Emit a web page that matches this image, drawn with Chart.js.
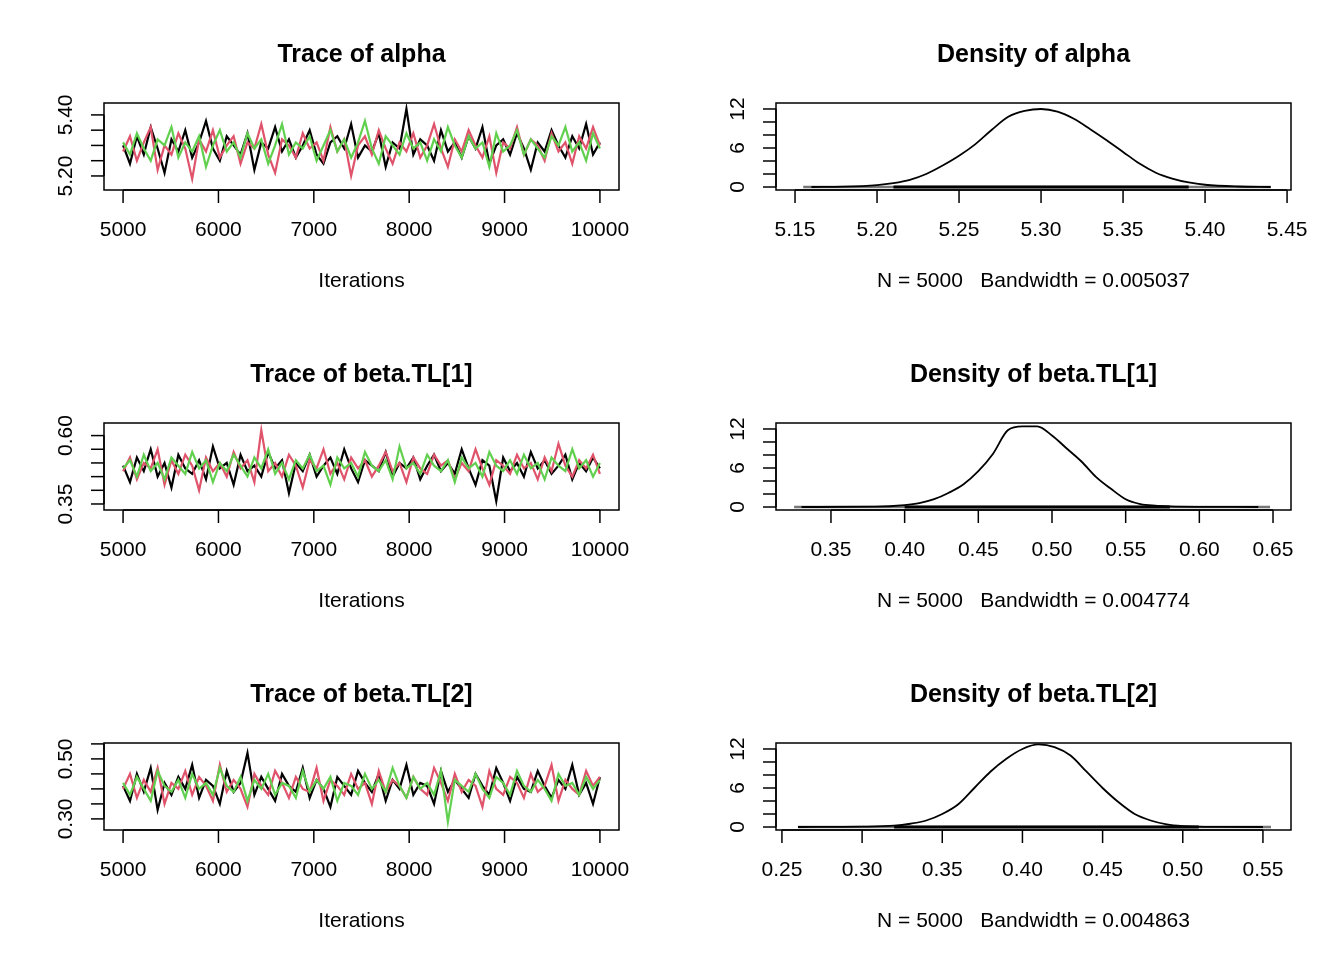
<!DOCTYPE html>
<html><head><meta charset="utf-8">
<script src="https://cdn.jsdelivr.net/npm/chart.js@4.4.1/dist/chart.umd.min.js"></script>
<style>body{margin:0;background:#fff;width:1344px;height:960px;position:relative;overflow:hidden}canvas{position:absolute;left:0;top:0}</style>
</head><body>
<script>
// ---- data ----
const alphaBlack=[5.30,5.24,5.33,5.27,5.36,5.29,5.21,5.32,5.28,5.35,5.26,5.31,5.38,5.29,5.25,5.33,5.30,5.27,5.34,5.22,5.31,5.29,5.36,5.28,5.32,5.26,5.30,5.35,5.27,5.24,5.31,5.33,5.29,5.37,5.26,5.30,5.28,5.34,5.23,5.31,5.29,5.42,5.27,5.32,5.30,5.25,5.35,5.28,5.31,5.26,5.33,5.29,5.36,5.24,5.30,5.32,5.27,5.34,5.29,5.22,5.31,5.28,5.35,5.30,5.26,5.33,5.29,5.37,5.27,5.31];
const alphaRed=[5.28,5.33,5.25,5.31,5.36,5.22,5.30,5.27,5.34,5.29,5.19,5.32,5.28,5.35,5.26,5.30,5.33,5.24,5.31,5.29,5.37,5.27,5.21,5.32,5.30,5.26,5.34,5.29,5.31,5.25,5.36,5.28,5.32,5.20,5.30,5.33,5.27,5.35,5.29,5.24,5.31,5.28,5.34,5.26,5.30,5.37,5.29,5.23,5.32,5.28,5.35,5.30,5.26,5.33,5.21,5.31,5.29,5.36,5.27,5.32,5.30,5.25,5.34,5.28,5.31,5.24,5.33,5.29,5.36,5.30];
const alphaGreen=[5.31,5.27,5.34,5.29,5.25,5.32,5.30,5.36,5.26,5.31,5.28,5.33,5.23,5.30,5.35,5.28,5.31,5.26,5.34,5.29,5.32,5.24,5.30,5.37,5.27,5.31,5.29,5.33,5.25,5.30,5.35,5.28,5.32,5.26,5.31,5.38,5.29,5.24,5.33,5.30,5.27,5.34,5.29,5.31,5.25,5.32,5.28,5.36,5.30,5.26,5.33,5.29,5.31,5.23,5.34,5.28,5.30,5.35,5.27,5.32,5.29,5.26,5.33,5.30,5.36,5.28,5.31,5.25,5.34,5.29];
const b1Black=[0.49,0.43,0.52,0.47,0.55,0.45,0.50,0.41,0.53,0.48,0.46,0.51,0.44,0.56,0.48,0.50,0.42,0.53,0.47,0.49,0.45,0.54,0.48,0.51,0.39,0.50,0.47,0.53,0.45,0.49,0.52,0.46,0.55,0.48,0.43,0.51,0.49,0.47,0.54,0.45,0.50,0.48,0.52,0.44,0.49,0.53,0.47,0.50,0.46,0.55,0.48,0.42,0.51,0.49,0.36,0.52,0.47,0.50,0.45,0.54,0.48,0.51,0.46,0.49,0.53,0.44,0.50,0.47,0.52,0.48];
const b1Red=[0.47,0.52,0.44,0.50,0.48,0.55,0.42,0.51,0.46,0.53,0.49,0.40,0.52,0.47,0.50,0.45,0.54,0.48,0.51,0.43,0.62,0.47,0.50,0.45,0.53,0.49,0.41,0.51,0.48,0.55,0.46,0.50,0.44,0.52,0.48,0.51,0.45,0.49,0.54,0.47,0.50,0.43,0.52,0.48,0.46,0.53,0.49,0.51,0.44,0.50,0.47,0.55,0.48,0.42,0.51,0.49,0.46,0.53,0.48,0.50,0.44,0.52,0.47,0.57,0.49,0.45,0.51,0.48,0.53,0.46];
const b1Green=[0.48,0.51,0.45,0.53,0.47,0.50,0.44,0.52,0.49,0.46,0.54,0.48,0.51,0.43,0.50,0.47,0.53,0.49,0.45,0.52,0.48,0.55,0.46,0.50,0.44,0.51,0.48,0.53,0.47,0.49,0.42,0.52,0.48,0.50,0.45,0.54,0.49,0.47,0.51,0.44,0.56,0.48,0.50,0.46,0.53,0.49,0.47,0.51,0.43,0.52,0.48,0.50,0.45,0.54,0.49,0.47,0.51,0.46,0.53,0.48,0.50,0.44,0.52,0.49,0.47,0.55,0.48,0.51,0.45,0.50];
const b2Black=[0.41,0.36,0.45,0.39,0.47,0.33,0.42,0.38,0.44,0.40,0.48,0.37,0.43,0.41,0.35,0.46,0.39,0.42,0.52,0.38,0.44,0.40,0.36,0.45,0.41,0.39,0.47,0.37,0.43,0.40,0.34,0.44,0.41,0.38,0.46,0.42,0.39,0.45,0.36,0.43,0.40,0.48,0.38,0.42,0.41,0.35,0.46,0.39,0.43,0.40,0.37,0.45,0.41,0.38,0.47,0.42,0.36,0.44,0.40,0.39,0.46,0.41,0.37,0.43,0.40,0.48,0.38,0.42,0.35,0.44];
const b2Red=[0.40,0.45,0.37,0.43,0.39,0.47,0.35,0.42,0.40,0.46,0.38,0.44,0.41,0.36,0.48,0.39,0.43,0.40,0.34,0.45,0.41,0.38,0.46,0.42,0.37,0.44,0.40,0.39,0.47,0.36,0.43,0.41,0.38,0.45,0.40,0.42,0.35,0.46,0.39,0.43,0.41,0.37,0.44,0.40,0.38,0.47,0.42,0.36,0.45,0.39,0.43,0.41,0.34,0.46,0.40,0.38,0.44,0.42,0.37,0.45,0.39,0.41,0.48,0.36,0.43,0.40,0.38,0.46,0.41,0.44];
const b2Green=[0.42,0.38,0.44,0.40,0.36,0.46,0.41,0.39,0.43,0.37,0.45,0.40,0.42,0.38,0.47,0.41,0.39,0.44,0.36,0.43,0.40,0.45,0.38,0.42,0.41,0.37,0.46,0.39,0.43,0.40,0.44,0.36,0.42,0.41,0.38,0.45,0.40,0.43,0.39,0.47,0.41,0.37,0.44,0.40,0.42,0.38,0.46,0.29,0.43,0.41,0.39,0.45,0.40,0.37,0.44,0.42,0.38,0.46,0.41,0.39,0.43,0.40,0.36,0.45,0.41,0.42,0.38,0.44,0.40,0.43];
const traceTicksX=[5000,6000,7000,8000,9000,10000];
const densAX=[5.16,5.18,5.20,5.21,5.22,5.23,5.24,5.25,5.26,5.27,5.28,5.29,5.30,5.31,5.32,5.33,5.34,5.35,5.36,5.37,5.38,5.39,5.40,5.42,5.44];
const densAY=[0,0.05,0.3,0.6,1.1,2.0,3.3,4.8,6.6,8.8,10.8,11.7,12.0,11.6,10.5,8.9,7.2,5.4,3.6,2.2,1.3,0.7,0.35,0.08,0];
const densB1X=[0.33,0.38,0.40,0.41,0.42,0.43,0.44,0.45,0.46,0.47,0.48,0.49,0.50,0.51,0.52,0.53,0.54,0.55,0.56,0.57,0.58,0.60,0.64];
const densB1Y=[0,0.05,0.3,0.6,1.2,2.2,3.5,5.5,8.2,11.8,12.4,12.4,11.0,9.0,7.0,4.6,2.8,1.2,0.45,0.2,0.1,0.03,0];
const densB2X=[0.26,0.30,0.32,0.33,0.34,0.35,0.36,0.37,0.38,0.39,0.40,0.41,0.42,0.43,0.44,0.45,0.46,0.47,0.48,0.49,0.50,0.52,0.55];
const densB2Y=[0,0.05,0.2,0.5,1.0,2.0,3.5,6.0,8.5,10.5,12.0,12.7,12.3,11.0,8.5,6.0,3.8,2.0,1.0,0.4,0.15,0.02,0];
const rugA=[5.155,5.44], coreA=[5.21,5.39];
const rugB1=[0.325,0.648], coreB1=[0.40,0.58];
const rugB2=[0.26,0.555], coreB2=[0.32,0.51];

const FONT='"Liberation Sans", Arial, sans-serif';
function trace(arr){return arr.map((v,i)=>({x:5000+i*5000/(arr.length-1),y:v}));}
function pts(xs,ys){return xs.map((x,i)=>({x,y:ys[i]}));}
function seg(a){return [{x:a[0],y:0},{x:a[1],y:0}];}

const panels=[
 {box:[104,103,619,190],title:'Trace of alpha',sub:'Iterations',x:[4800,10200],y:[5.154,5.439],xt:traceTicksX,yt:[5.20,5.25,5.30,5.35,5.40],ylab:[5.20,5.40],dec:2,xdec:0,
  ds:[trace(alphaBlack),trace(alphaRed),trace(alphaGreen)],trace:true},
 {box:[776,103,1291,190],title:'Density of alpha',sub:'N = 5000   Bandwidth = 0.005037',x:[5.1384,5.4524],y:[-0.46,12.92],xt:[5.15,5.20,5.25,5.30,5.35,5.40,5.45],yt:[0,2,4,6,8,10,12],ylab:[0,6,12],dec:0,xdec:2,
  curve:pts(densAX,densAY),rug:rugA,core:coreA},
 {box:[104,423,619,510],title:'Trace of beta.TL[1]',sub:'Iterations',x:[4800,10200],y:[0.328,0.646],xt:traceTicksX,yt:[0.35,0.40,0.45,0.50,0.55,0.60],ylab:[0.35,0.60],dec:2,xdec:0,
  ds:[trace(b1Black),trace(b1Red),trace(b1Green)],trace:true},
 {box:[776,423,1291,510],title:'Density of beta.TL[1]',sub:'N = 5000   Bandwidth = 0.004774',x:[0.3127,0.6622],y:[-0.46,12.92],xt:[0.35,0.40,0.45,0.50,0.55,0.60,0.65],yt:[0,2,4,6,8,10,12],ylab:[0,6,12],dec:0,xdec:2,
  curve:pts(densB1X,densB1Y),rug:rugB1,core:coreB1},
 {box:[104,743,619,830],title:'Trace of beta.TL[2]',sub:'Iterations',x:[4800,10200],y:[0.263,0.553],xt:traceTicksX,yt:[0.30,0.35,0.40,0.45,0.50,0.55],ylab:[0.30,0.50],dec:2,xdec:0,
  ds:[trace(b2Black),trace(b2Red),trace(b2Green)],trace:true},
 {box:[776,743,1291,830],title:'Density of beta.TL[2]',sub:'N = 5000   Bandwidth = 0.004863',x:[0.2463,0.5675],y:[-0.46,12.92],xt:[0.25,0.30,0.35,0.40,0.45,0.50,0.55],yt:[0,2,4,6,8,10,12],ylab:[0,6,12],dec:0,xdec:2,
  curve:pts(densB2X,densB2Y),rug:rugB2,core:coreB2}
];
const cols=['#000000','#DF536B','#61D04F'];

panels.forEach(p=>{
  const c=document.createElement('canvas');c.width=1344;c.height=960;c.style.width='1344px';c.style.height='960px';
  document.body.appendChild(c);
  let datasets;
  if(p.trace){datasets=p.ds.map((d,i)=>({data:d,borderColor:cols[i],borderWidth:2.2,pointRadius:0,tension:0,order:3-i}));}
  else{datasets=[
    {data:seg(p.rug),borderColor:'#777',borderWidth:2.5,pointRadius:0,order:3},
    {data:seg(p.core),borderColor:'#000',borderWidth:3,pointRadius:0,order:2},
    {data:p.curve,borderColor:'#000',borderWidth:1.8,pointRadius:0,tension:0.4,cubicInterpolationMode:'monotone',order:1}];}
  const [l,t,r,b]=p.box;
  new Chart(c,{type:'line',data:{datasets},
   options:{responsive:false,animation:false,devicePixelRatio:1,
    layout:{padding:{left:l,top:t,right:1344-r,bottom:960-b}},
    plugins:{legend:{display:false},tooltip:{enabled:false}},
    scales:{x:{type:'linear',display:false,min:p.x[0],max:p.x[1]},y:{type:'linear',display:false,min:p.y[0],max:p.y[1]}}},
   plugins:[{id:'rstyle',afterDraw(ch){
     const ctx=ch.ctx,a=ch.chartArea,xs=ch.scales.x,ys=ch.scales.y;
     ctx.save();ctx.strokeStyle='#000';ctx.lineWidth=1.5;ctx.fillStyle='#000';
     ctx.strokeRect(a.left,a.top,a.right-a.left,a.bottom-a.top);
     ctx.font='21px '+FONT;ctx.textAlign='center';ctx.textBaseline='middle';
     const x0=xs.getPixelForValue(p.xt[0]),x1=xs.getPixelForValue(p.xt[p.xt.length-1]);
     ctx.beginPath();ctx.moveTo(x0,a.bottom);ctx.lineTo(x1,a.bottom);ctx.stroke();
     p.xt.forEach(v=>{const px=xs.getPixelForValue(v);ctx.beginPath();ctx.moveTo(px,a.bottom);ctx.lineTo(px,a.bottom+13);ctx.stroke();
       ctx.fillText(v.toFixed(p.xdec),px,a.bottom+40);});
     p.yt.forEach(v=>{const py=ys.getPixelForValue(v);ctx.beginPath();ctx.moveTo(a.left,py);ctx.lineTo(a.left-13,py);ctx.stroke();});
     const y0=ys.getPixelForValue(p.yt[0]),y1=ys.getPixelForValue(p.yt[p.yt.length-1]);
     ctx.beginPath();ctx.moveTo(a.left,y0);ctx.lineTo(a.left,y1);ctx.stroke();
     p.ylab.forEach(v=>{const py=ys.getPixelForValue(v);ctx.save();ctx.translate(a.left-38,py);ctx.rotate(-Math.PI/2);ctx.fillText(v.toFixed(p.dec),0,0);ctx.restore();});
     const cx=(a.left+a.right)/2;
     ctx.fillText(p.sub,cx,a.bottom+91);
     ctx.font='bold 25px '+FONT;ctx.fillText(p.title,cx,a.top-48);
     ctx.restore();}}]});
});
</script>
</body></html>
